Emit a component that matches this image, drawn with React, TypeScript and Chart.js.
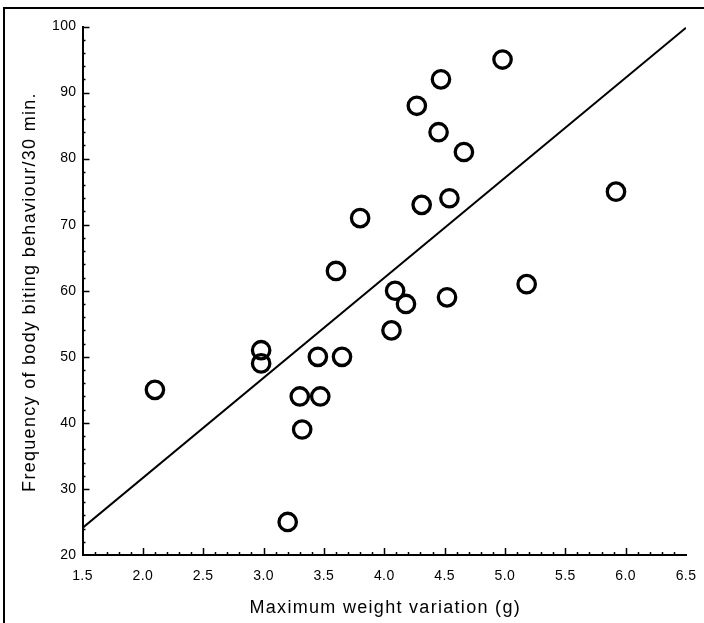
import React, { useEffect, useRef } from "react";
import { Chart, registerables } from "chart.js";

Chart.register(...registerables);

// Maximum weight variation (g) per animal
const weightVariation = [
  2.1, 2.98, 2.98, 3.2, 3.3, 3.32, 3.45, 3.47, 3.65, 3.6, 3.8, 4.06, 4.09, 4.18,
  4.27, 4.31, 4.45, 4.47, 4.52, 4.54, 4.66, 4.98, 5.18, 5.92,
];
// Body biting bouts counted over 30 min
const bitingFrequency = [
  45, 51, 49, 25, 44, 39, 50, 44, 50, 63, 71, 54, 60, 58, 88, 73, 84, 92, 59,
  74, 81, 95, 61, 75,
];
// Fitted regression line end points
const fitX = [1.5, 6.5];
const fitY = [24.1, 99.8];

const xTitle = "Maximum weight variation (g)";
const yTitle = "Frequency of body biting behaviour/30 min.";

const FONT = '"Liberation Sans", Arial, Helvetica, sans-serif';

const axisDecor = {
  id: "axisDecor",
  beforeLayout(chart: any) {
    chart.ctx.letterSpacing = "0.4px";
  },
  beforeDraw(chart: any) {
    chart.ctx.letterSpacing = "0.4px";
  },
  afterDraw(chart: any) {
    const { ctx, chartArea, scales } = chart;
    const xs = scales.x;
    const ys = scales.y;
    ctx.save();
    ctx.strokeStyle = "#000";
    ctx.lineWidth = 1.5;
    ctx.beginPath();
    // inward ticks on the x axis: major every 0.5, minor every 0.1
    for (let i = 1; i < 50; i++) {
      const v = 1.5 + i * 0.1;
      const major = i % 5 === 0;
      const px = Math.round(xs.getPixelForValue(v)) + 0.5;
      const len = major ? 7 : 3;
      ctx.moveTo(px, chartArea.bottom);
      ctx.lineTo(px, chartArea.bottom - len);
    }
    // inward ticks on the y axis: major every 10, minor every 2
    for (let i = 1; i <= 40; i++) {
      const v = 20 + i * 2;
      const major = i % 5 === 0;
      const py = Math.round(ys.getPixelForValue(v)) + 0.5;
      const len = major ? 7 : 3;
      ctx.moveTo(chartArea.left, py);
      ctx.lineTo(chartArea.left + len, py);
    }
    ctx.stroke();

    ctx.fillStyle = "#000";
    ctx.font = "18px " + FONT;
    ctx.letterSpacing = "1.3px";
    ctx.textAlign = "center";
    ctx.textBaseline = "middle";
    ctx.fillText(xTitle, (chartArea.left + chartArea.right) / 2 + 1, chartArea.bottom + 53);
    ctx.translate(30, 292);
    ctx.rotate(-Math.PI / 2);
    ctx.fillText(yTitle, 0, 0);
    ctx.restore();
  },
};

export default function App() {
  const canvasRef = useRef<HTMLCanvasElement | null>(null);

  useEffect(() => {
    const canvas = canvasRef.current;
    if (!canvas) return;
    const chart = new Chart(canvas, {
      type: "scatter",
      data: {
        datasets: [
          {
            type: "line",
            label: "fit",
            data: fitX.map((x, i) => ({ x, y: fitY[i] })),
            borderColor: "#000",
            borderWidth: 2,
            pointRadius: 0,
            fill: false,
          },
          {
            label: "animals",
            data: weightVariation.map((x, i) => ({ x, y: bitingFrequency[i] })),
            pointStyle: "circle",
            pointRadius: 8.7,
            pointBorderWidth: 3.3,
            borderColor: "#000",
            backgroundColor: "rgba(255,255,255,0)",
          },
        ],
      },
      options: {
        responsive: false,
        animation: false,
        events: [],
        layout: { padding: { left: 0, right: 18, top: 26.5, bottom: 0 } },
        plugins: {
          legend: { display: false },
          tooltip: { enabled: false },
        },
        scales: {
          x: {
            type: "linear",
            min: 1.5,
            max: 6.5,
            grid: { display: false, drawTicks: false },
            border: { display: true, color: "#000", width: 2 },
            ticks: {
              stepSize: 0.5,
              color: "#000",
              padding: 13,
              font: { family: FONT, size: 14 },
              callback: (v: any) => Number(v).toFixed(1),
            },
            afterFit: (s: any) => {
              s.height = 68;
              s.paddingLeft = 0;
              s.paddingRight = 0;
            },
          },
          y: {
            type: "linear",
            min: 20,
            max: 100,
            grid: { display: false, drawTicks: false },
            border: { display: true, color: "#000", width: 2 },
            ticks: {
              stepSize: 10,
              color: "#000",
              padding: 6,
              font: { family: FONT, size: 14 },
            },
            afterFit: (s: any) => {
              s.width = 82.5;
              s.paddingTop = 0;
              s.paddingBottom = 0;
            },
          },
        },
      },
      plugins: [axisDecor],
    });
    return () => chart.destroy();
  }, []);

  return (
    <div
      style={{
        position: "fixed",
        left: 0,
        top: 0,
        width: 704,
        height: 623,
        background: "#fff",
        overflow: "hidden",
      }}
    >
      <div
        style={{
          position: "absolute",
          left: 3,
          top: 7,
          right: -10,
          bottom: -10,
          borderLeft: "2px solid #000",
          borderTop: "2px solid #000",
        }}
      />
      <canvas
        ref={canvasRef}
        width={704}
        height={623}
        style={{ position: "absolute", left: 0, top: 0, width: 704, height: 623 }}
      />
    </div>
  );
}
